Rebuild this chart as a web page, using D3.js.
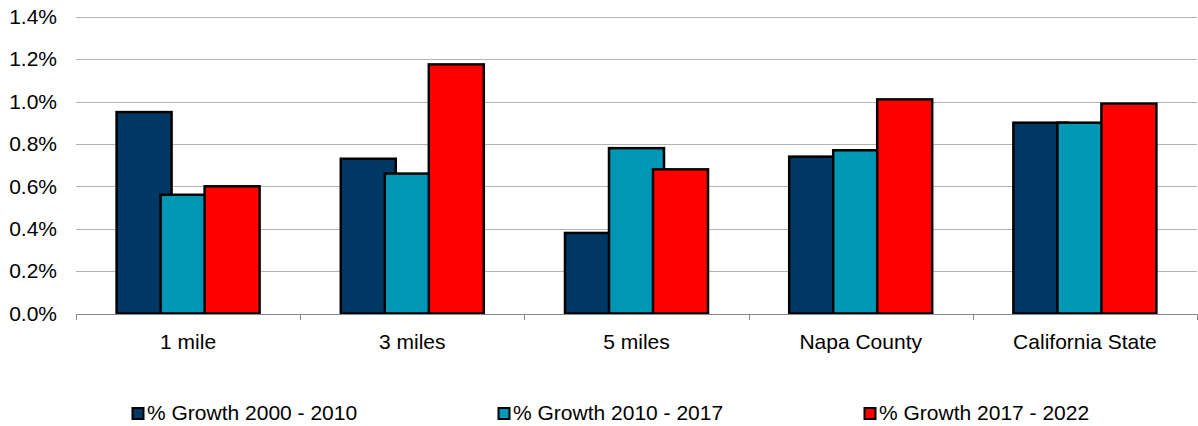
<!DOCTYPE html>
<html>
<head>
<meta charset="utf-8">
<script src="https://cdn.jsdelivr.net/npm/d3@7"></script>
<style>
  html, body { margin: 0; padding: 0; background: #fff; }
  svg { display: block; }
  text { font-family: "Liberation Sans", Arial, sans-serif; fill: #000; }
</style>
</head>
<body>
<svg id="chart" width="1198" height="426"></svg>
<script>
// Population growth by area
const categories = ["1 mile", "3 miles", "5 miles", "Napa County", "California State"];
const seriesNames = ["% Growth 2000 - 2010", "% Growth 2010 - 2017", "% Growth 2017 - 2022"];
const growth2000_2010 = [0.0095, 0.0073, 0.0038, 0.0074, 0.0090];
const growth2010_2017 = [0.0056, 0.0066, 0.0078, 0.0077, 0.0090];
const growth2017_2022 = [0.0060, 0.01175, 0.0068, 0.0101, 0.0099];
const yTicks = [0, 0.002, 0.004, 0.006, 0.008, 0.010, 0.012, 0.014];

const series = [growth2000_2010, growth2010_2017, growth2017_2022];
const colors = ["#003865", "#0096b5", "#ff0000"];
const fontSize = 21;

const svg = d3.select("#chart");
const plotLeft = 76, plotRight = 1197, plotTop = 16.7, plotBottom = 313.5;

const x = d3.scaleBand().domain(categories).range([plotLeft, plotRight]).paddingInner(0).paddingOuter(0);
const y = d3.scaleLinear().domain([0, 0.014]).range([plotBottom, plotTop]);

// horizontal gridlines
svg.append("g")
  .selectAll("line")
  .data(yTicks.slice(1))
  .join("line")
  .attr("x1", plotLeft).attr("x2", plotRight)
  .attr("y1", d => Math.round(y(d)) + 0.5).attr("y2", d => Math.round(y(d)) + 0.5)
  .attr("stroke", "#b3b3b3").attr("stroke-width", 1);

// y-axis labels
const yAxis = d3.axisLeft(y).tickValues(yTicks).tickFormat(d3.format(".1%")).tickSize(0).tickPadding(19);
const yg = svg.append("g").attr("transform", `translate(${plotLeft},0)`).call(yAxis);
yg.select(".domain").remove();
yg.selectAll("text").attr("font-size", fontSize).attr("font-family", "Liberation Sans, Arial, sans-serif").attr("fill", "#000");

// bars
const bw = x.bandwidth();
const barW = bw * 0.2453;
const step = bw * 0.1963;
series.forEach((vals, si) => {
  svg.append("g")
    .selectAll("rect")
    .data(vals)
    .join("rect")
    .attr("x", (d, i) => x(categories[i]) + bw / 2 + (si - 1) * step - barW / 2)
    .attr("y", d => y(d))
    .attr("width", barW)
    .attr("height", d => y(0) - y(d))
    .attr("fill", colors[si])
    .attr("stroke", "#000")
    .attr("stroke-width", 2.5);
});

// x axis baseline and category ticks
const xAxis = d3.axisBottom(x).tickSize(0).tickPadding(20);
const xg = svg.append("g").attr("transform", `translate(0,${Math.round(plotBottom) + 0.5})`).call(xAxis);
xg.select(".domain").attr("stroke", "#888").attr("d", `M${plotLeft},0H${plotRight}`);
xg.selectAll("text").attr("font-size", fontSize).attr("font-family", "Liberation Sans, Arial, sans-serif").attr("fill", "#000");
const bounds = categories.map(c => x(c)).concat([plotRight]);
svg.append("g")
  .selectAll("line")
  .data(bounds)
  .join("line")
  .attr("x1", d => Math.round(d) + 0.5).attr("x2", d => Math.round(d) + 0.5)
  .attr("y1", Math.round(plotBottom)).attr("y2", Math.round(plotBottom) + 6)
  .attr("stroke", "#888").attr("stroke-width", 1);

// legend
const legend = svg.append("g");
seriesNames.forEach((name, i) => {
  const gx = 132 + i * 366;
  legend.append("rect")
    .attr("x", gx + 0.5).attr("y", 408)
    .attr("width", 11).attr("height", 11)
    .attr("fill", colors[i]).attr("stroke", "#000").attr("stroke-width", 2);
  legend.append("text")
    .attr("x", gx + 15).attr("y", 419.5)
    .attr("font-size", fontSize)
    .text(name);
});
</script>
</body>
</html>
